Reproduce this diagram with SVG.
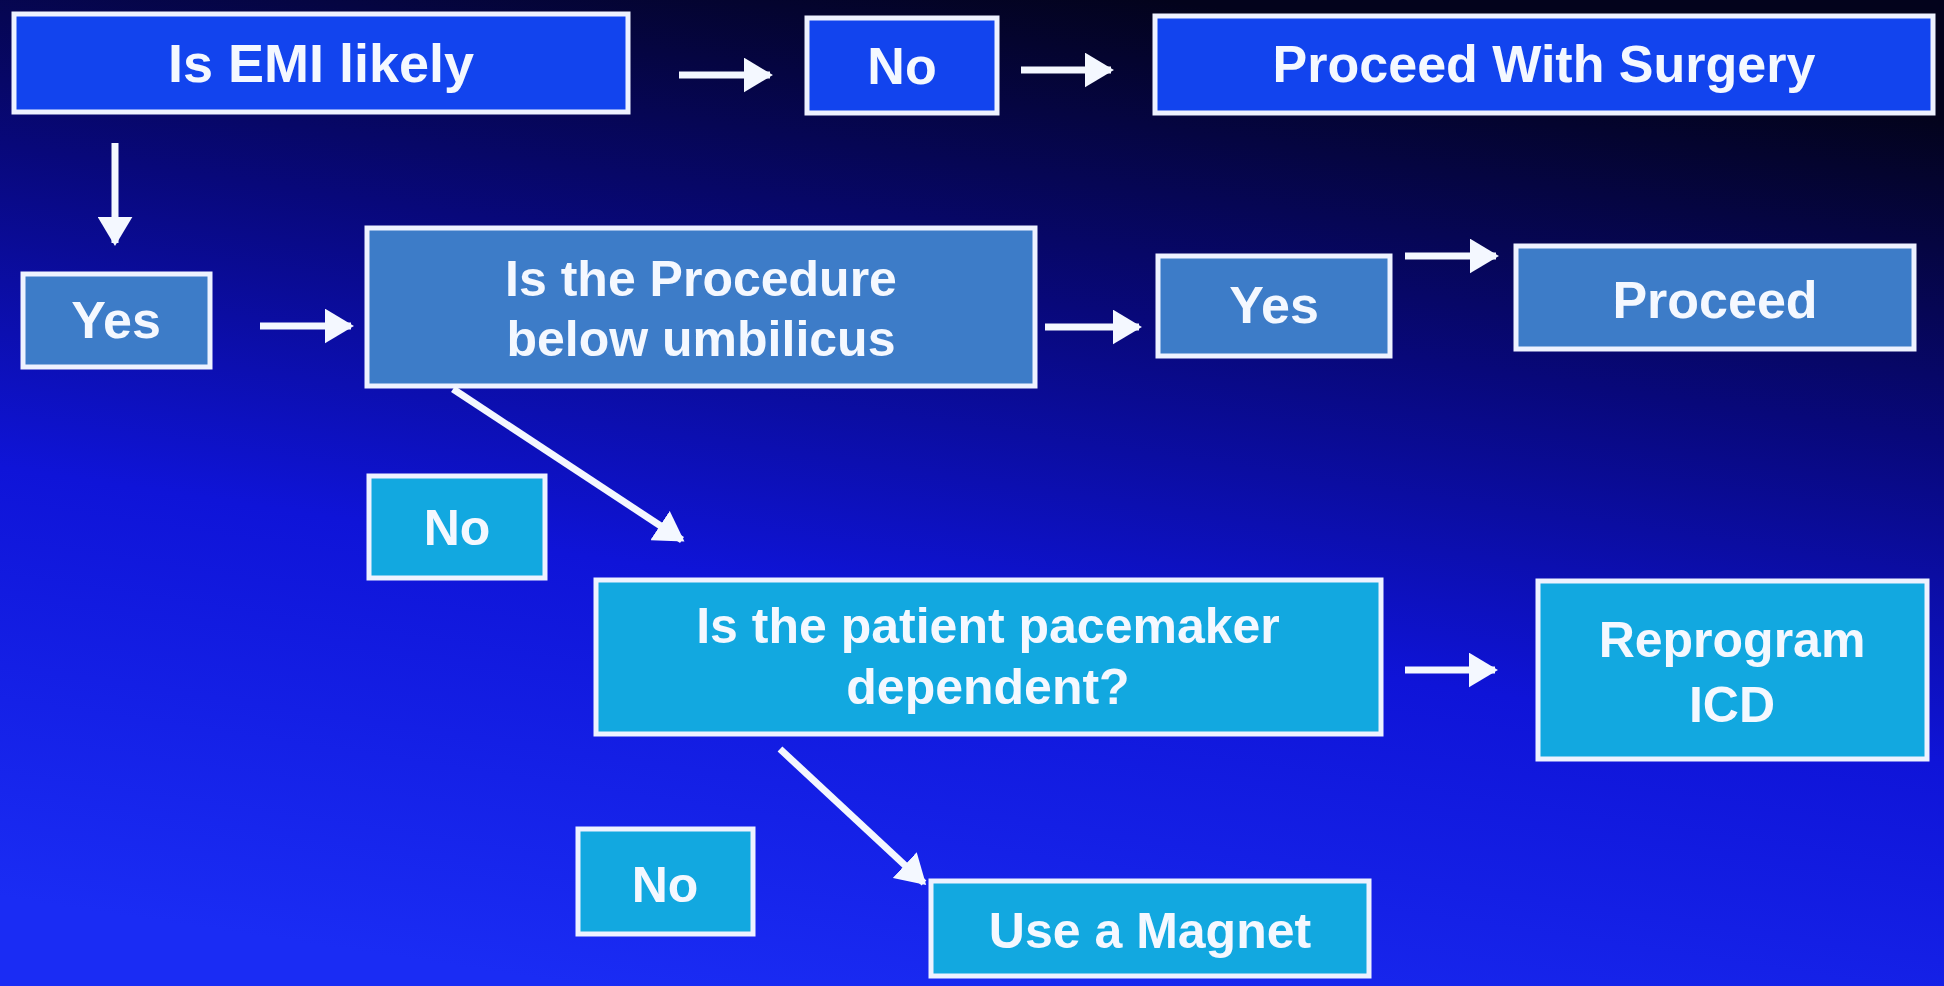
<svg xmlns="http://www.w3.org/2000/svg" width="1944" height="986" viewBox="0 0 1944 986">
<defs>
<linearGradient id="bg" x1="0.6" y1="0" x2="0.3" y2="1">
<stop offset="0" stop-color="#03031c"/>
<stop offset="0.3" stop-color="#08087a"/>
<stop offset="0.6" stop-color="#0f14d8"/>
<stop offset="1" stop-color="#1a2cf4"/>
</linearGradient>
<marker id="ah" viewBox="0 0 10 12" refX="9" refY="6" markerWidth="4.2" markerHeight="5" markerUnits="strokeWidth" orient="auto">
<path d="M0,0 L10,6 L0,12 Z" fill="#f4f8ff"/>
</marker>
<style>
.b{stroke:#eef2ff;stroke-width:5}
.t1{fill:#1244ee}
.t2{fill:#3d7cc8}
.t3{fill:#12a8e0}
text{font-family:"Comic Sans MS","Liberation Sans",sans-serif;fill:#f4f8ff;font-weight:bold;text-anchor:middle}
.c line{stroke:#f4f8ff;stroke-width:7;marker-end:url(#ah)}
</style>
</defs>
<rect width="1944" height="986" fill="url(#bg)"/>
<g id="n1"><rect class="b t1" x="14" y="14" width="614" height="98"/><text x="321" y="82" font-size="54">Is EMI likely</text></g>
<g id="n2"><rect class="b t1" x="807" y="18" width="190" height="95"/><text x="902" y="84" font-size="52">No</text></g>
<g id="n3"><rect class="b t1" x="1155" y="16" width="778" height="97"/><text x="1544" y="82" font-size="52">Proceed With Surgery</text></g>
<g id="n4"><rect class="b t2" x="23" y="274" width="187" height="93"/><text x="116" y="338" font-size="52">Yes</text></g>
<g id="n5"><rect class="b t2" x="367" y="228" width="668" height="158"/><text x="701" y="296" font-size="50">Is the Procedure</text><text x="701" y="356" font-size="50">below umbilicus</text></g>
<g id="n6"><rect class="b t2" x="1158" y="256" width="232" height="100"/><text x="1274" y="323" font-size="52">Yes</text></g>
<g id="n7"><rect class="b t2" x="1516" y="246" width="398" height="103"/><text x="1715" y="318" font-size="52">Proceed</text></g>
<g id="n8"><rect class="b t3" x="369" y="476" width="176" height="102"/><text x="457" y="545" font-size="50">No</text></g>
<g id="n9"><rect class="b t3" x="596" y="580" width="785" height="154"/><text x="988" y="643" font-size="50">Is the patient pacemaker</text><text x="988" y="704" font-size="50">dependent?</text></g>
<g id="n10"><rect class="b t3" x="1538" y="581" width="389" height="178"/><text x="1732" y="657" font-size="50" font-weight="normal">Reprogram</text><text x="1732" y="722" font-size="50" font-weight="normal">ICD</text></g>
<g id="n11"><rect class="b t3" x="578" y="829" width="175" height="105"/><text x="665" y="902" font-size="50">No</text></g>
<g id="n12"><rect class="b t3" x="931" y="881" width="438" height="95"/><text x="1150" y="948" font-size="50">Use a Magnet</text></g>
<g class="c" id="connectors">
<line x1="679" y1="75" x2="770" y2="75"/>
<line x1="1021" y1="70" x2="1111" y2="70"/>
<line x1="115" y1="143" x2="115" y2="243"/>
<line x1="260" y1="326" x2="351" y2="326"/>
<line x1="1045" y1="327" x2="1139" y2="327"/>
<line x1="1405" y1="256" x2="1496" y2="256"/>
<line x1="453" y1="389" x2="682" y2="540"/>
<line x1="1405" y1="670" x2="1495" y2="670"/>
<line x1="780" y1="749" x2="924" y2="883"/>
</g>
</svg>
